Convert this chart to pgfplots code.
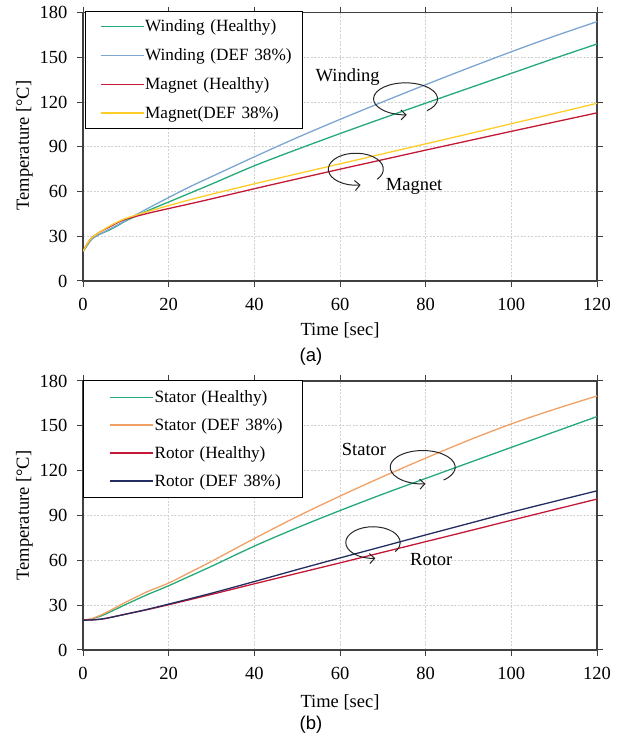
\documentclass[border=0pt]{standalone}
\usepackage{pgfplots}
\pgfplotsset{compat=1.18}
\usepackage{fontspec}
\setmainfont{Liberation Serif}
\newfontfamily\capfont{Liberation Sans}
\usetikzlibrary{arrows.meta}

\definecolor{cgreen}{RGB}{35,170,120}
\definecolor{cblue}{RGB}{125,165,210}
\definecolor{cred}{RGB}{195,25,55}
\definecolor{cyellow}{RGB}{255,205,40}
\definecolor{corange}{RGB}{240,160,100}
\definecolor{cnavy}{RGB}{35,45,95}

\newcommand{\lbl}{\fontsize{18.5bp}{22bp}\selectfont}
\newcommand{\leg}{\fontsize{17.2bp}{20bp}\selectfont}

\tikzset{annot/.style={black!85, line width=1bp, -{Straight Barb[length=5bp,width=10bp]}}}

\pgfplotsset{
  tempaxis/.style={
    anchor=south west,
    width=514bp, scale only axis,
    xmin=0, xmax=120, ymin=0, ymax=180,
    xtick={0,20,...,120}, ytick={0,30,...,180},
    tick align=outside, major tick length=6bp,
    tick style={black!75, line width=1bp},
    axis line style={black!75, line width=1.5bp},
    grid=major,
    major grid style={black!18, dash pattern=on 2bp off 1.5bp, line width=0.8bp},
    tick label style={font=\lbl},
    xticklabel style={yshift=-8bp},
    yticklabel style={xshift=-6bp},
    /pgf/number format/assume math mode=true,
    legend cell align=left,
    legend style={at={(axis description cs:0,1)}, anchor=north west,
      draw=black, line width=1bp, fill=white,
      font=\leg, inner xsep=2bp, inner ysep=6.5bp, row sep=11.5bp},
    every axis plot/.append style={line width=1.3bp, no markers, smooth},
  },
  % legend sample: blank lead-in of #1, then a 43bp line
  legpad/.style={
    legend image code/.code={
      \path[draw=none] (-#1,0bp) -- (0bp,0bp);
      \draw[##1, line width=1.3bp] (0bp,0bp) -- (43bp,0bp);}},
}

\begin{document}
\begin{tikzpicture}
\path[use as bounding box] (0,0) rectangle (627bp,739bp);

% ---------- (a) winding and magnet ----------
\begin{axis}[tempaxis, at={(83bp,458bp)}, height=268.3bp, legpad=13bp,
  legend style={xshift=2bp, yshift=2bp, nodes={inner xsep=1bp, text width=154bp}}]
\addplot[cgreen] coordinates {(0,20) (1,24) (2,28) (3,30) (4,31.5) (6,34) (8,37) (10,40.3) (15,47) (20,53) (25,59) (30,65) (40,77.3) (50,88.3) (60,98.9) (70,109.2) (80,119.3) (90,129.3) (100,139.3) (110,149.3) (120,159)};
\addplot[cblue] coordinates {(0,20) (1,24) (2,28) (3,30) (4,31.5) (6,34.5) (8,37.5) (10,40.7) (15,48.5) (20,56) (25,63.3) (30,70) (40,83.3) (50,96.2) (60,108.4) (70,120.2) (80,131.7) (90,142.9) (100,153.8) (110,164.2) (120,174)};
\addplot[cred] coordinates {(0,20) (1,25) (2,29) (3,31) (4,33) (6,36) (8,39) (10,41.5) (15,45.3) (20,48.6) (25,51.8) (30,55.1) (40,61.9) (50,68.5) (60,75) (70,81.4) (80,87.8) (90,94.1) (100,100.4) (110,106.6) (120,112.8)};
\addplot[cyellow] coordinates {(0,20) (1,25) (2,29) (3,31) (4,33) (6,36.5) (8,39.5) (10,42) (15,46.5) (20,50.6) (25,54.5) (30,58.2) (40,65.2) (50,71.9) (60,78.6) (70,85.3) (80,92) (90,98.7) (100,105.5) (110,112.3) (120,119.2)};
\legend{Winding (Healthy), Winding (DEF 38\%), Magnet (Healthy), Magnet(DEF 38\%)}
\draw[annot] ([shift={(-48:32bp and 16bp)}]axis cs:75.3,122.2)
  arc[start angle=-48, end angle=272, x radius=32bp, y radius=16bp];
\node[font=\lbl] at (axis cs:61.8,137.1) {Winding};
\draw[annot] ([shift={(-39:27.5bp and 16bp)}]axis cs:63.7,75.0)
  arc[start angle=-39, end angle=280, x radius=27.5bp, y radius=16bp];
\node[font=\lbl] at (axis cs:77.3,63.3) {Magnet};
\end{axis}
\node[font=\lbl, rotate=90] at (24.5bp,593.5bp) {Temperature [°C]};
\node[font=\lbl] at (340bp,409bp) {Time [sec]};
\node[font=\capfont\lbl] at (311bp,382.3bp) {(a)};

% ---------- (b) stator and rotor ----------
\begin{axis}[tempaxis, at={(83bp,89bp)}, height=269bp, legpad=24.5bp,
  legend style={xshift=0bp, yshift=1bp, inner ysep=8bp, row sep=10.5bp,
    nodes={inner xsep=1bp, text width=145bp}}]
\addplot[cgreen] coordinates {(0,20) (2,20.8) (5,23.7) (10,30.5) (15,37) (20,43) (25,49.5) (30,56) (40,69.5) (50,81.8) (60,93.3) (70,104.3) (80,114.8) (90,125.2) (100,135.6) (110,145.9) (120,156.2)};
\addplot[corange] coordinates {(0,20) (2,21) (5,24.5) (10,32) (15,39) (20,44.8) (25,52) (30,59.3) (40,74.6) (50,89.3) (60,103) (70,116) (80,128.4) (90,140.3) (100,151.3) (110,161) (120,170)};
\addplot[cred] coordinates {(0,20) (2,20.1) (5,21) (10,24) (15,27) (20,30.3) (30,37.2) (40,44.3) (50,51.3) (60,58.3) (70,65.4) (80,72.5) (90,79.6) (100,86.8) (110,93.9) (120,101)};
\addplot[cnavy] coordinates {(0,20) (2,20.1) (5,21) (10,24) (15,27.2) (20,30.7) (30,38) (40,45.8) (50,53.8) (60,61.6) (70,69.3) (80,77) (90,84.6) (100,92.2) (110,99.4) (120,106.5)};
\legend{Stator (Healthy), Stator (DEF 38\%), Rotor (Healthy), Rotor (DEF 38\%)}
\draw[annot] ([shift={(-50:32.5bp and 16.7bp)}]axis cs:79.3,122.3)
  arc[start angle=-50, end angle=275, x radius=32.5bp, y radius=16.7bp];
\node[font=\lbl] at (axis cs:65.6,134.3) {Stator};
\draw[annot] ([shift={(-35:27.2bp and 15.8bp)}]axis cs:67.7,71.9)
  arc[start angle=-35, end angle=275, x radius=27.2bp, y radius=15.8bp];
\node[font=\lbl] at (axis cs:81.3,60.2) {Rotor};
\end{axis}
\node[font=\lbl, rotate=90] at (24.5bp,223.5bp) {Temperature [°C]};
\node[font=\lbl] at (340bp,36.3bp) {Time [sec]};
\node[font=\capfont\lbl] at (311bp,14.7bp) {(b)};
\end{tikzpicture}
\end{document}
